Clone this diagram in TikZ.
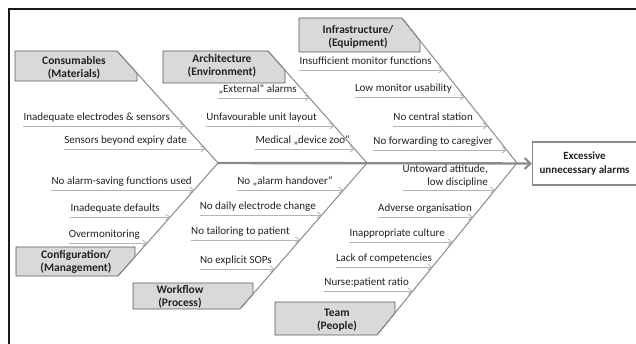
\documentclass[tikz,border=0pt]{standalone}
\usepackage{fontspec}
\setmainfont{Carlito}
\usetikzlibrary{arrows.meta,calc}
\definecolor{txt}{HTML}{222222}
\definecolor{bone}{HTML}{8A8A8A}
\definecolor{cline}{HTML}{B4B4B4}
\definecolor{boxfill}{HTML}{D9D9D9}
\definecolor{boxline}{HTML}{5A5A5A}
\tikzset{
  ctext/.style={font=\fontsize{11}{12.5}\selectfont, text=txt, inner sep=0pt},
  carrow/.style={draw=cline, line width=0.8pt, -{Straight Barb[length=4pt,width=6pt]}},
  bonel/.style={draw=bone, line width=1pt},
  spine/.style={draw=bone, line width=2.4pt},
  catbox/.style={fill=boxfill, draw=boxline, line width=0.8pt, line join=miter},
  cattext/.style={font=\bfseries\fontsize{11.5}{13.5}\selectfont, text=txt, align=center, inner sep=0pt},
  frameline/.style={draw=black!90, line width=1.3pt},
}
\newcommand\cz[6]{%
  \coordinate (#1e) at (intersection cs:first line={(#2)--(#3)}, second line={(0,#4)--(600,#4)});
  \node[ctext, anchor=base east] (#1) at (#5,#4-5.5) {#6};
  \draw[carrow] (#1.west |- #1e) -- (#1e);
}
\begin{document}
\begin{tikzpicture}[x=1pt,y=-1pt]
\useasboundingbox (0,0) rectangle (636,344);
% frame
\draw[frameline] (637,9) -- (9,9) -- (9,345);

% spine coordinates
\coordinate (S0) at (218,163);
\coordinate (S1) at (367,163);
\coordinate (S2) at (517,163);
% bone ends
\coordinate (Ctop) at (117,51);
\coordinate (Atop) at (268,51);
\coordinate (Itop) at (402,18);
\coordinate (Gbot) at (118,276);
\coordinate (Wbot) at (240,309);
\coordinate (Tbot) at (377,335);

% effect box
\node[draw=bone, line width=1.1pt, fill=white, minimum width=104pt, minimum height=43pt, inner sep=0pt, anchor=west,
      font=\bfseries\fontsize{11}{13.5}\selectfont, text=txt, align=center] (eff) at (532,163.5) {Excessive\\unnecessary alarms};

% spine
\draw[spine, -{Straight Barb[length=6pt,width=11pt,line width=2pt]}] (S0) -- (eff.west);

% category boxes
\filldraw[catbox] (15,51) -- (Ctop) -- (137,73.2) -- (137,81) -- (15,81) -- cycle;
\filldraw[catbox] (163,51) -- (Atop) -- (285,70.2) -- (285,83) -- (163,83) -- cycle;
\filldraw[catbox] (299,18) -- (Itop) -- (420,40.7) -- (420,52) -- (299,52) -- cycle;
\filldraw[catbox] (16,247) -- (135,247) -- (135,256.8) -- (Gbot) -- (16,276) -- cycle;
\filldraw[catbox] (133,283) -- (253,283) -- (253,294) -- (Wbot) -- (133,309) -- cycle;
\filldraw[catbox] (275,302) -- (395,302) -- (395,313) -- (Tbot) -- (275,335) -- cycle;

\node[cattext] (cons) at (74,68) {Consumables\\(Materials)};
\node[cattext] (arch) at (222,66) {Architecture\\(Environment)};
\node[cattext] (infra) at (358,37) {Infrastructure/\\(Equipment)};
\node[cattext] (conf) at (76,262) {Configuration/\\(Management)};
\node[cattext] (work) at (180,297) {Workflow\\(Process)};
\node[cattext] (team) at (337,320) {Team\\(People)};

% bones
\draw[bonel] (Ctop) -- (S0);
\draw[bonel] (Atop) -- (S1);
\draw[bonel] (Itop) -- (S2);
\draw[bonel] (Gbot) -- (S0);
\draw[bonel] (Wbot) -- (S1);
\draw[bonel] (Tbot) -- (S2);

% causes
\cz{c1}{Ctop}{S0}{126}{170}{Inadequate electrodes \& sensors}
\cz{c2}{Ctop}{S0}{149}{187}{Sensors beyond expiry date}
\cz{a1}{Atop}{S1}{98}{297}{„External“ alarms}
\cz{a2}{Atop}{S1}{126}{317}{Unfavourable unit layout}
\cz{a3}{Atop}{S1}{149}{350}{Medical „device zoo“}
\cz{i1}{Itop}{S2}{70}{432}{Insufficient monitor functions}
\cz{i2}{Itop}{S2}{97}{452}{Low monitor usability}
\cz{i3}{Itop}{S2}{126}{473}{No central station}
\cz{i4}{Itop}{S2}{150}{493}{No forwarding to caregiver}
\cz{g1}{Gbot}{S0}{190}{192}{No alarm-saving functions used}
\cz{g2}{Gbot}{S0}{217}{160}{Inadequate defaults}
\cz{g3}{Gbot}{S0}{243}{140}{Overmonitoring}
\cz{w1}{Wbot}{S1}{190}{333}{No „alarm handover“}
\cz{w2}{Wbot}{S1}{215}{316}{No daily electrode change}
\cz{w3}{Wbot}{S1}{240}{290}{No tailoring to patient}
\cz{w4}{Wbot}{S1}{269}{272}{No explicit SOPs}
% two-line team cause
\coordinate (t1e) at (intersection cs:first line={(Tbot)--(S2)}, second line={(0,190)--(600,190)});
\node[ctext, anchor=south east, align=right] (t1) at (488,187) {Untoward attitude,\\low discipline};
\draw[carrow] (t1.west |- t1e) -- (t1e);
\cz{t2}{Tbot}{S2}{217}{472}{Adverse organisation}
\cz{t3}{Tbot}{S2}{242}{445}{Inappropriate culture}
\cz{t4}{Tbot}{S2}{267}{432}{Lack of competencies}
\cz{t5}{Tbot}{S2}{291}{409}{Nurse:patient ratio}
\end{tikzpicture}
\end{document}
